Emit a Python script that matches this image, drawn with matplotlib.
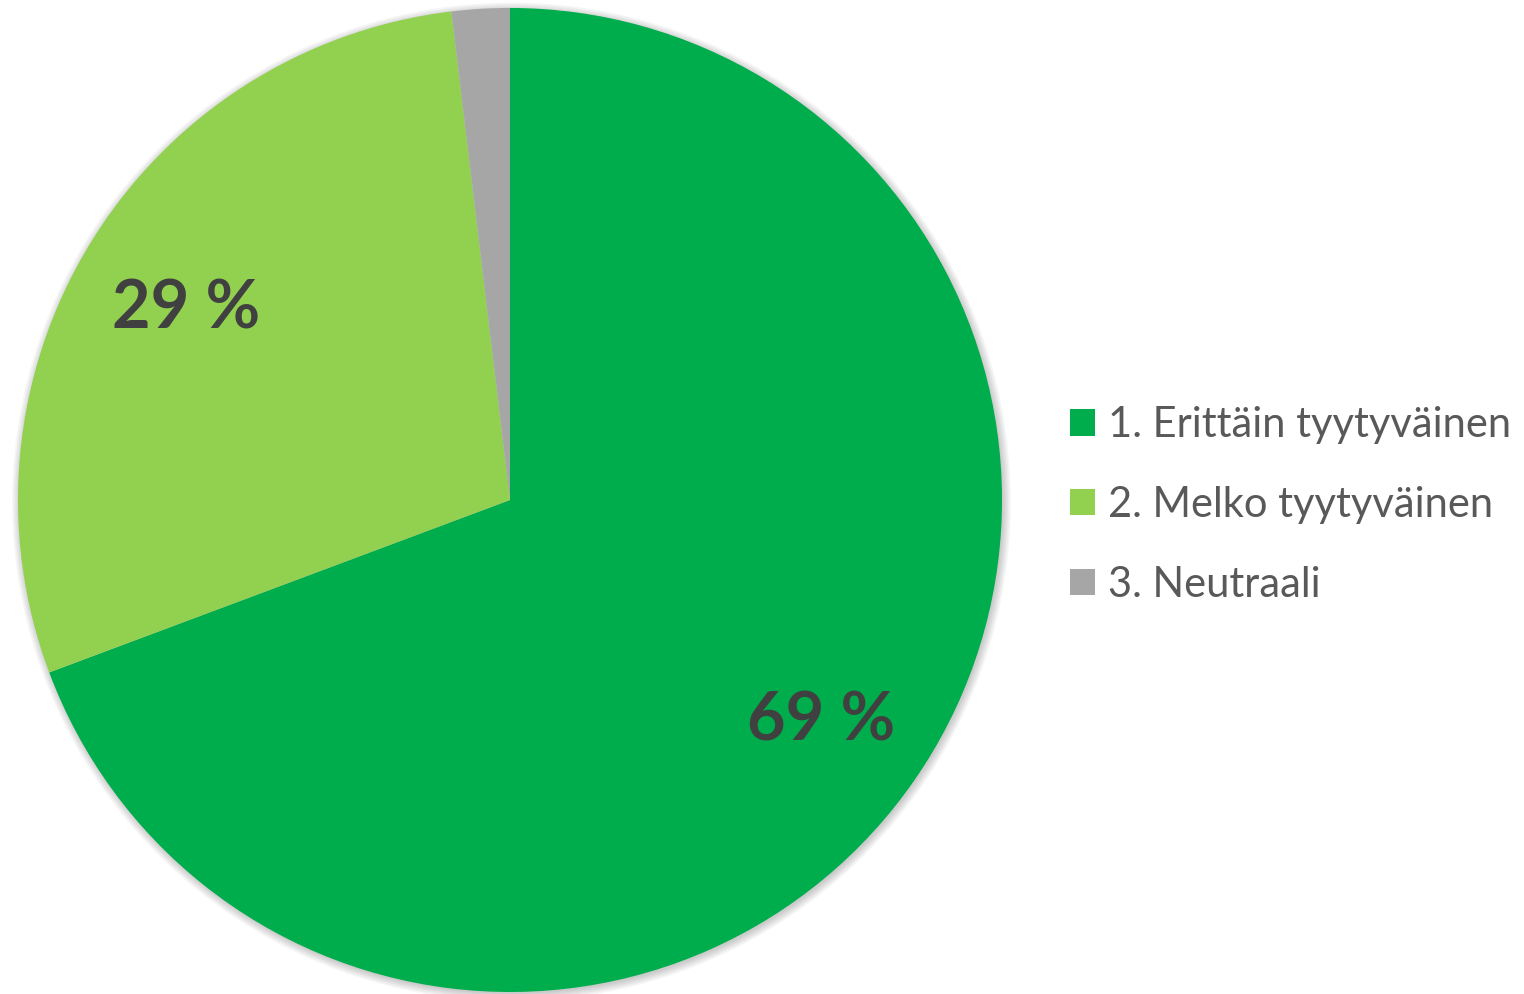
import matplotlib.pyplot as plt
from matplotlib.patches import Circle

# Tyytyväisyys - piirakkakaavio
categories = ["1. Erittäin tyytyväinen", "2. Melko tyytyväinen", "3. Neutraali"]
shares = [69.3, 28.8, 1.9]
colors = ["#00AD4C", "#92D050", "#A6A6A6"]

plt.rcParams["font.family"] = ["Lato", "DejaVu Sans"]

fig = plt.figure(figsize=(15.24, 9.94), dpi=100)
ax = fig.add_axes([0.0118, 0.002, 0.6457, 0.99])

# pehmeä varjo piirakan alle
for i in range(6):
    ax.add_patch(Circle((0.003, -0.004), 1.0 + 0.003 * i, color="black",
                        alpha=0.035, lw=0, zorder=0, clip_on=False))


def fmt(pct):
    return f"{pct:.0f} %" if pct > 5 else ""


wedges, texts, autotexts = ax.pie(
    shares,
    colors=colors,
    startangle=90,
    counterclock=False,
    autopct=fmt,
    pctdistance=0.77,
    radius=1.0,
    wedgeprops={"linewidth": 0, "zorder": 2},
    textprops={"fontsize": 48, "fontweight": "bold", "color": "#404040", "zorder": 3},
)
for t in autotexts:
    t.set_va("center_baseline")

ax.set_xlim(-1, 1)
ax.set_ylim(-1, 1)
ax.set_aspect("equal")

leg = fig.legend(
    wedges,
    categories,
    loc="center left",
    bbox_to_anchor=(0.6775, 0.492),
    frameon=False,
    fontsize=30,
    labelcolor="#595959",
    handlelength=0.6,
    handleheight=0.6,
    handletextpad=0.3,
    labelspacing=1.0,
)

fig.savefig("out.png", dpi=100)
